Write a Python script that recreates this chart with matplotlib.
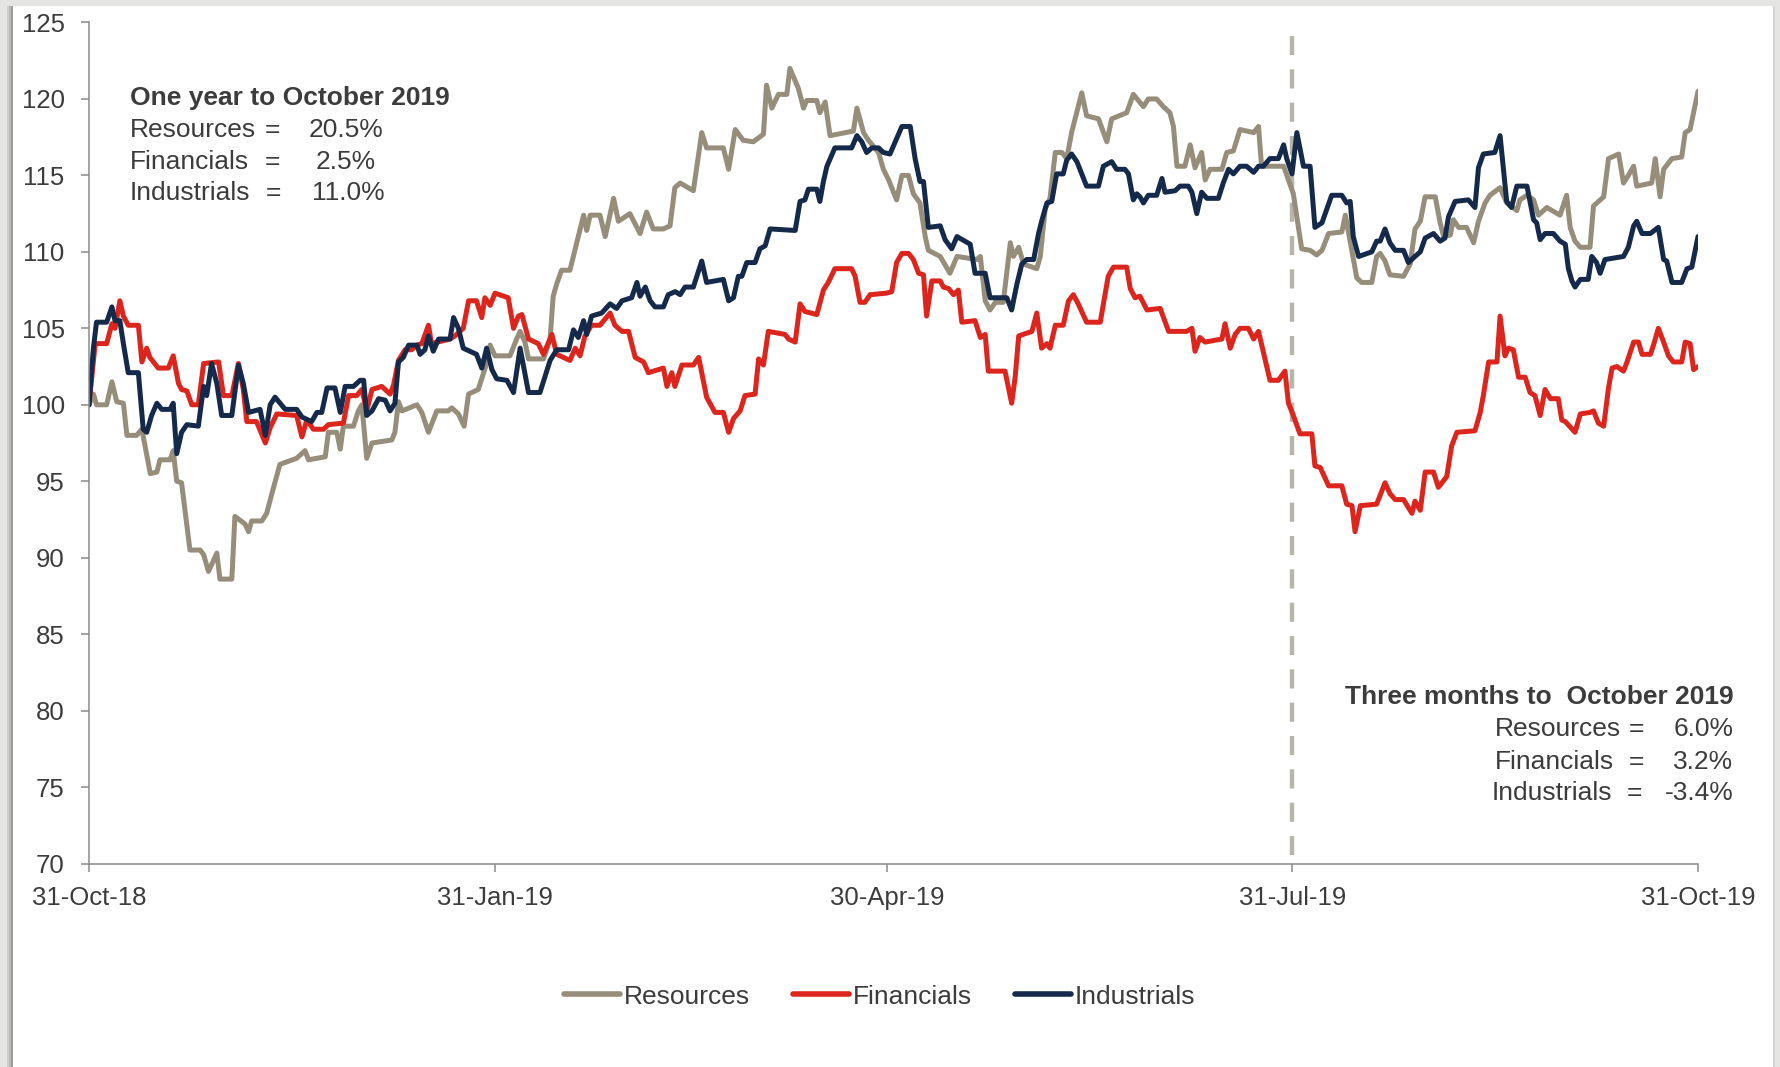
import numpy as np
import pandas as pd
import matplotlib
matplotlib.use("Agg")
import matplotlib.pyplot as plt
from matplotlib.patches import Rectangle

plt.rcParams['font.family'] = ['Liberation Sans', 'DejaVu Sans']

# ---------------- data (days after 31-Oct-2018, index level) ----------------
start_date = "2018-10-31"
tick_dates = ["2018-10-31", "2019-01-31", "2019-04-30", "2019-07-31", "2019-10-31"]
y_ticks = [70, 75, 80, 85, 90, 95, 100, 105, 110, 115, 120, 125]

res_days = [0, 1.0, 1.7, 4.0, 5.2, 6.3, 7.8, 8.6, 10.8, 12.0,
            13.9, 15.4, 16.1, 18.4, 19.1, 19.9, 21.0, 22.9, 25.2, 26.0,
            27.1, 29.0, 29.7, 32.4, 33.1, 35.4, 36.2, 36.9, 39.2, 40.3,
            41.5, 43.3, 47.1, 49.0, 49.8, 53.6, 54.3, 56.2, 57.0, 57.7,
            60.0, 61.1, 61.9, 63.0, 64.2, 68.7, 69.4, 70.2, 71.0, 74.4,
            75.5, 77.0, 78.9, 81.5, 82.3, 83.8, 85.1, 86.1, 88.3, 90.2,
            91.0, 92.1, 95.5, 97.0, 97.8, 98.9, 99.7, 103.1, 104.6, 105.3,
            106.1, 107.2, 109.1, 111.0, 112.2, 112.9, 113.7, 115.9, 117.1, 119.0,
            120.1, 122.7, 125.0, 126.5, 128.0, 130.3, 131.8, 132.9, 134.1, 137.1,
            139.0, 140.1, 143.9, 145.1, 146.6, 148.4, 150.7, 153.0, 153.7, 154.9,
            156.4, 158.3, 159.0, 160.9, 162.1, 162.8, 165.1, 165.8, 167.0, 168.1,
            173.4, 174.2, 175.7, 176.8, 179.1, 180.2, 181.4, 183.2, 184.4, 185.9,
            187.0, 188.5, 189.7, 190.4, 193.1, 195.3, 196.9, 201.4, 202.2, 203.3,
            204.4, 205.6, 207.4, 209.0, 209.7, 210.9, 212.0, 215.0, 215.8, 216.9,
            218.0, 219.2, 220.7, 221.8, 222.9, 225.2, 226.3, 229.0, 230.9, 232.0,
            235.4, 236.9, 239.2, 240.3, 242.2, 243.7, 245.2, 246.0, 246.8, 248.6,
            249.8, 250.9, 252.4, 253.2, 254.3, 257.0, 258.1, 259.6, 261.1, 264.2,
            265.3, 266.0, 271.0, 273.2, 275.1, 277.0, 278.5, 279.7, 281.2, 284.2,
            285.0, 287.6, 288.7, 291.0, 292.1, 292.9, 294.0, 295.1, 298.2, 299.7,
            300.8, 302.0, 303.1, 305.4, 306.5, 307.3, 308.8, 309.5, 310.7, 312.5,
            314.1, 315.2, 316.7, 317.8, 320.1, 321.6, 323.9, 324.6, 326.2, 327.7,
            328.8, 330.7, 333.7, 335.2, 336.0, 337.1, 338.3, 340.5, 341.3, 343.6,
            344.7, 347.0, 348.1, 349.2, 350.4, 351.1, 354.5, 355.3, 356.4, 357.2,
            359.1, 361.3, 362.1, 363.2, 365.0]
res_vals = [100.0, 100.7, 100.0, 100.0, 101.5, 100.2, 100.1, 98.0, 98.0, 98.4,
            95.5, 95.6, 96.4, 96.4, 97.0, 95.0, 94.9, 90.5, 90.5, 90.2,
            89.1, 90.3, 88.6, 88.6, 92.7, 92.2, 91.7, 92.4, 92.4, 92.9,
            94.2, 96.1, 96.5, 97.0, 96.4, 96.6, 98.2, 98.2, 97.1, 98.6,
            98.6, 99.6, 100.0, 96.5, 97.5, 97.7, 98.2, 100.2, 99.6, 100.0,
            99.5, 98.2, 99.6, 99.6, 99.8, 99.4, 98.6, 100.7, 101.0, 102.7,
            103.9, 103.2, 103.2, 104.3, 104.8, 104.1, 103.0, 103.0, 104.3, 107.1,
            107.9, 108.8, 108.8, 111.0, 112.4, 111.4, 112.4, 112.4, 111.0, 113.5,
            112.0, 112.5, 111.2, 112.6, 111.5, 111.5, 111.7, 114.2, 114.5, 114.0,
            117.8, 116.8, 116.8, 115.4, 118.0, 117.3, 117.2, 117.7, 120.9, 119.4,
            120.3, 120.3, 122.0, 120.7, 119.4, 119.9, 119.9, 119.1, 119.8, 117.6,
            117.9, 119.4, 117.8, 117.3, 116.5, 115.4, 114.7, 113.4, 115.0, 115.0,
            113.8, 113.2, 111.0, 110.1, 109.7, 108.6, 109.7, 109.5, 109.7, 106.8,
            106.2, 106.7, 106.7, 110.6, 109.7, 110.3, 109.2, 108.9, 109.7, 112.8,
            113.5, 116.5, 116.5, 116.1, 117.8, 120.4, 118.9, 118.7, 117.2, 118.7,
            119.1, 120.3, 119.5, 120.0, 120.0, 119.5, 119.1, 118.2, 115.6, 115.6,
            117.0, 115.5, 116.5, 114.7, 115.4, 115.4, 116.5, 116.6, 118.0, 117.8,
            118.2, 115.6, 115.6, 113.8, 110.2, 110.1, 109.8, 110.1, 111.2, 111.3,
            112.4, 108.3, 108.0, 108.0, 109.7, 109.9, 109.4, 108.5, 108.4, 109.2,
            111.5, 112.0, 113.6, 113.6, 111.9, 111.0, 111.1, 112.1, 111.6, 111.6,
            110.6, 112.0, 113.2, 113.7, 114.2, 113.2, 112.7, 113.4, 113.7, 113.4,
            112.4, 112.9, 112.4, 113.7, 111.6, 110.7, 110.3, 110.3, 113.0, 113.6,
            116.1, 116.4, 114.5, 115.0, 115.6, 114.3, 114.5, 116.1, 113.6, 115.4,
            116.1, 116.2, 117.8, 118.0, 120.5]

fin_days = [0, 1.4, 4.0, 5.2, 5.9, 7.0, 7.8, 8.9, 11.2, 12.0,
            13.1, 13.8, 15.7, 18.0, 19.1, 20.3, 21.0, 22.2, 23.3, 24.8,
            26.0, 29.4, 30.5, 32.4, 33.9, 35.0, 35.8, 38.0, 40.0, 41.1,
            42.6, 47.1, 48.3, 49.4, 50.9, 53.2, 54.3, 57.7, 58.9, 60.7,
            61.9, 63.0, 64.2, 66.4, 68.3, 69.1, 70.2, 71.7, 73.2, 74.4,
            75.5, 77.0, 77.7, 81.9, 83.0, 84.9, 86.1, 87.9, 89.1, 89.8,
            91.0, 92.1, 95.1, 96.3, 97.4, 98.2, 99.7, 101.9, 103.1, 105.0,
            106.1, 109.1, 110.3, 111.4, 112.5, 114.0, 115.9, 118.2, 119.3, 120.9,
            122.4, 123.9, 125.8, 126.9, 130.3, 131.1, 132.2, 132.9, 134.5, 137.1,
            138.3, 140.1, 142.0, 143.9, 145.1, 146.2, 147.7, 148.8, 151.1, 151.9,
            153.0, 154.1, 157.9, 158.7, 160.2, 161.3, 162.4, 165.1, 166.6, 167.7,
            169.2, 173.0, 173.8, 174.9, 176.0, 177.2, 180.9, 182.1, 183.2, 184.4,
            185.9, 187.0, 188.2, 189.3, 190.0, 191.2, 193.1, 193.8, 195.0, 196.1,
            197.2, 198.0, 201.0, 202.2, 203.3, 204.0, 207.8, 209.3, 210.1, 210.9,
            213.9, 215.0, 216.1, 217.3, 218.0, 219.2, 221.0, 222.2, 223.3, 224.4,
            226.3, 229.4, 231.2, 232.4, 235.4, 236.2, 237.3, 238.4, 240.0, 243.0,
            244.9, 249.0, 250.2, 250.9, 252.0, 253.2, 257.0, 257.7, 258.9, 260.0,
            261.1, 263.0, 264.2, 265.3, 267.9, 269.8, 271.3, 272.1, 273.2, 274.7,
            277.4, 278.1, 279.3, 281.2, 284.2, 285.3, 286.5, 287.2, 288.4, 292.1,
            294.0, 295.1, 296.3, 298.2, 300.1, 300.8, 302.0, 303.1, 305.0, 306.1,
            308.0, 309.1, 310.3, 314.4, 315.6, 316.3, 317.5, 319.4, 320.1, 321.2,
            322.0, 323.1, 324.3, 325.8, 326.9, 328.0, 329.2, 330.3, 331.5, 333.3,
            334.1, 334.9, 337.1, 338.3, 340.5, 341.3, 342.4, 343.6, 344.7, 345.5,
            346.6, 348.1, 348.9, 350.4, 351.5, 352.3, 354.2, 354.9, 356.0, 357.2,
            358.3, 359.4, 361.3, 362.1, 363.2, 364.0, 365.0]
fin_vals = [100.0, 104.0, 104.0, 105.3, 105.0, 106.8, 105.8, 105.2, 105.2, 102.8,
            103.7, 103.1, 102.4, 102.4, 103.2, 101.4, 101.0, 100.9, 100.0, 100.0,
            102.7, 102.8, 100.6, 100.6, 102.7, 101.0, 98.9, 98.9, 97.5, 98.5,
            99.4, 99.3, 97.9, 99.0, 98.4, 98.4, 98.7, 98.8, 100.6, 100.6,
            101.0, 99.6, 101.0, 101.2, 100.7, 101.3, 102.9, 103.6, 103.6, 103.9,
            104.0, 105.2, 104.0, 104.3, 104.5, 105.0, 106.8, 106.8, 105.7, 107.0,
            106.5, 107.3, 107.0, 105.0, 105.8, 105.9, 104.3, 104.0, 103.3, 104.6,
            103.3, 102.9, 103.7, 103.2, 104.5, 105.2, 105.2, 106.0, 105.2, 104.8,
            104.8, 103.1, 102.8, 102.1, 102.4, 101.2, 102.1, 101.2, 102.6, 102.6,
            103.1, 100.5, 99.5, 99.5, 98.2, 99.1, 99.6, 100.6, 100.7, 103.0,
            102.6, 104.8, 104.6, 104.3, 104.1, 106.6, 106.1, 105.9, 107.5, 108.0,
            108.9, 108.9, 108.4, 106.7, 106.7, 107.2, 107.3, 107.4, 109.3, 109.9,
            109.9, 109.5, 108.6, 108.5, 105.8, 108.1, 108.1, 107.7, 107.6, 107.2,
            107.5, 105.4, 105.5, 104.4, 104.6, 102.2, 102.2, 100.1, 101.8, 104.5,
            104.8, 106.0, 103.7, 104.0, 103.7, 105.2, 105.2, 106.8, 107.2, 106.6,
            105.4, 105.4, 108.4, 109.0, 109.0, 107.6, 107.0, 107.1, 106.2, 106.3,
            104.8, 104.8, 105.0, 103.5, 104.4, 104.1, 104.3, 105.3, 103.7, 104.6,
            105.0, 105.0, 104.3, 104.8, 101.6, 101.6, 102.2, 100.1, 99.3, 98.1,
            98.1, 96.0, 95.9, 94.7, 94.7, 93.5, 93.4, 91.7, 93.4, 93.5,
            94.9, 94.2, 93.8, 93.8, 92.9, 93.7, 93.1, 95.6, 95.6, 94.6,
            95.3, 97.3, 98.2, 98.3, 99.5, 100.6, 102.8, 102.8, 105.8, 103.2,
            103.7, 103.6, 101.8, 101.8, 100.8, 100.6, 99.3, 101.0, 100.4, 100.4,
            99.0, 98.9, 98.2, 99.4, 99.5, 99.6, 98.8, 98.6, 101.1, 102.4,
            102.5, 102.2, 102.8, 104.1, 104.1, 103.3, 103.3, 103.9, 105.0, 104.1,
            103.2, 102.8, 102.8, 104.1, 104.0, 102.3, 102.5]

ind_days = [0, 1.0, 1.7, 4.0, 5.2, 5.9, 7.0, 7.8, 8.9, 11.2,
            12.3, 13.1, 14.2, 15.4, 16.5, 18.4, 19.1, 19.9, 21.0, 22.2,
            24.8, 26.0, 26.7, 27.8, 29.0, 30.1, 32.4, 33.9, 35.0, 36.2,
            38.8, 40.0, 41.1, 42.2, 44.5, 47.1, 48.3, 50.5, 51.7, 52.8,
            54.0, 55.8, 57.0, 58.1, 60.0, 61.5, 62.3, 63.0, 64.2, 65.7,
            67.2, 68.3, 69.4, 70.2, 71.3, 72.5, 74.4, 75.1, 76.2, 77.0,
            78.1, 79.3, 81.9, 82.7, 83.8, 84.9, 87.9, 89.1, 90.2, 91.4,
            92.5, 94.8, 96.3, 97.8, 99.7, 102.3, 103.5, 104.6, 106.1, 108.8,
            109.9, 111.0, 112.2, 112.9, 114.0, 116.3, 118.2, 119.7, 120.9, 123.1,
            124.3, 125.0, 126.2, 127.3, 128.4, 130.3, 131.4, 133.0, 134.1, 135.2,
            137.1, 139.0, 140.1, 143.9, 145.1, 146.2, 147.3, 148.1, 149.2, 151.1,
            152.2, 153.4, 154.5, 160.2, 161.3, 162.4, 163.2, 165.1, 165.8, 166.6,
            167.4, 169.2, 173.0, 174.2, 175.3, 176.4, 177.6, 179.1, 180.2, 181.7,
            183.2, 184.4, 186.3, 187.4, 188.5, 189.3, 190.4, 193.1, 194.2, 195.7,
            196.9, 199.9, 201.0, 203.3, 204.4, 208.2, 209.3, 210.5, 211.6, 212.7,
            214.3, 215.4, 216.1, 217.3, 218.4, 219.5, 221.0, 221.8, 222.9, 224.1,
            225.6, 226.3, 229.0, 230.1, 232.0, 233.1, 235.0, 235.8, 236.9, 237.7,
            238.4, 239.2, 240.3, 242.2, 243.4, 244.1, 246.4, 247.5, 249.4, 250.2,
            251.3, 252.4, 253.6, 256.2, 257.3, 258.5, 259.6, 261.1, 262.6, 264.2,
            265.3, 266.4, 267.9, 269.8, 271.0, 271.7, 272.9, 274.0, 275.5, 277.0,
            278.1, 279.7, 280.8, 281.9, 284.2, 285.3, 286.1, 286.8, 288.0, 291.0,
            292.1, 292.9, 294.0, 295.1, 296.3, 298.2, 299.3, 300.8, 302.0, 303.1,
            305.0, 306.5, 307.6, 308.4, 309.9, 312.9, 314.4, 315.2, 316.3, 318.9,
            320.1, 321.6, 322.7, 323.9, 326.2, 327.7, 328.4, 329.2, 330.3, 332.2,
            333.7, 334.9, 335.6, 336.4, 337.1, 338.3, 340.1, 340.9, 342.0, 342.8,
            343.9, 348.1, 349.2, 350.4, 351.1, 352.3, 354.2, 356.0, 357.2, 357.9,
            359.1, 361.3, 362.5, 363.6, 364.3, 365.0]
ind_vals = [100.0, 103.7, 105.4, 105.4, 106.4, 105.5, 105.5, 104.0, 102.1, 102.1,
            98.4, 98.2, 99.3, 100.1, 99.7, 99.7, 100.1, 96.8, 98.2, 98.7,
            98.6, 101.2, 100.6, 102.7, 101.4, 99.3, 99.3, 102.6, 101.4, 99.5,
            99.7, 98.0, 100.0, 100.5, 99.7, 99.7, 99.2, 98.9, 99.5, 99.5,
            101.1, 101.1, 99.5, 101.2, 101.2, 101.6, 101.6, 99.3, 99.6, 100.4,
            100.3, 99.6, 100.1, 102.8, 103.1, 103.9, 103.9, 103.3, 103.6, 104.5,
            103.5, 104.3, 104.3, 105.7, 105.0, 103.7, 103.3, 102.4, 103.7, 102.3,
            101.7, 101.6, 100.8, 103.7, 100.8, 100.8, 101.9, 102.9, 103.6, 103.6,
            104.9, 104.4, 105.5, 104.6, 105.8, 106.0, 106.6, 106.3, 106.8, 107.0,
            108.0, 107.1, 107.7, 106.8, 106.4, 106.4, 107.2, 107.4, 107.2, 107.7,
            107.7, 109.4, 108.0, 108.2, 106.8, 107.0, 108.4, 108.4, 109.3, 109.3,
            110.2, 110.4, 111.5, 111.4, 113.3, 113.4, 114.1, 114.1, 113.3, 114.6,
            115.6, 116.8, 116.8, 117.6, 117.2, 116.5, 116.8, 116.8, 116.5, 116.4,
            117.4, 118.2, 118.2, 116.1, 114.6, 114.6, 111.6, 111.7, 110.8, 110.2,
            111.0, 110.5, 108.6, 108.6, 107.0, 107.0, 106.2, 107.9, 109.2, 109.5,
            109.5, 111.2, 112.0, 113.2, 113.3, 115.1, 115.1, 116.0, 116.4, 115.9,
            114.8, 114.3, 114.3, 115.6, 115.9, 115.4, 115.4, 115.1, 113.4, 113.8,
            113.6, 113.2, 113.7, 113.7, 114.8, 113.9, 114.0, 114.3, 114.3, 113.9,
            112.5, 113.9, 113.5, 113.5, 114.5, 115.4, 115.1, 115.6, 115.6, 115.2,
            115.6, 115.6, 116.1, 116.1, 117.0, 116.1, 115.1, 117.8, 115.6, 115.6,
            111.6, 111.9, 112.8, 113.7, 113.7, 113.2, 113.3, 111.0, 109.7, 110.0,
            110.7, 110.7, 111.5, 110.6, 110.1, 110.1, 109.3, 109.7, 110.0, 110.9,
            111.2, 110.7, 110.9, 112.3, 113.3, 113.4, 112.9, 115.5, 116.4, 116.5,
            117.6, 113.3, 112.9, 114.3, 114.3, 112.1, 111.9, 110.8, 111.2, 111.2,
            110.7, 110.5, 108.9, 108.1, 107.7, 108.2, 108.2, 109.7, 109.3, 108.6,
            109.5, 109.7, 110.3, 111.7, 112.0, 111.2, 111.2, 111.6, 109.5, 109.4,
            108.0, 108.0, 108.9, 109.0, 110.0, 111.0]

series_names = ["Resources", "Financials", "Industrials"]
series_colors = ["#968D7A", "#DC251C", "#152A4A"]

one_year_values = ["20.5%", "2.5%", "11.0%"]
three_month_values = ["6.0%", "3.2%", "-3.4%"]

# ---------------- figure ----------------
W, H = 1781, 1067
fig = plt.figure(figsize=(W / 100, H / 100), dpi=100, facecolor="#E5E5E3")

# white panel with grey frame / left shadow
fig.patches.append(Rectangle((13.5 / W, 0), (1773.5 - 13.5) / W, 1 - 5.7 / H,
                             transform=fig.transFigure, facecolor="white",
                             edgecolor="none", zorder=-10))
for x0, x1, c in [(7.0, 9.5, "#CFCFCD"), (9.5, 11.5, "#B7B7B5"), (11.5, 13.5, "#9E9E9C")]:
    fig.patches.append(Rectangle((x0 / W, 0), (x1 - x0) / W, 1 - 5.7 / H,
                                 transform=fig.transFigure, facecolor=c,
                                 edgecolor="none", zorder=-9))
fig.patches.append(Rectangle((1773.5 / W, 0), 2.0 / W, 1 - 5.7 / H,
                             transform=fig.transFigure, facecolor="#D6D6D4",
                             edgecolor="none", zorder=-9))

left, right = 89 / W, 1698 / W
bottom, top = 1 - 863.5 / H, 1 - 22.5 / H
ax = fig.add_axes([left, bottom, right - left, top - bottom])
ax.set_facecolor("white")

t0 = pd.Timestamp(start_date)
def to_dates(days):
    return t0 + pd.to_timedelta(np.asarray(days, dtype=float), unit="D")

all_days = [res_days, fin_days, ind_days]
all_vals = [res_vals, fin_vals, ind_vals]

LW = 3.6

# vertical dashed marker at 31-Jul-19
ax.axvline(pd.Timestamp("2019-07-31"), ymin=(124.1 - 70) / 55, ymax=0,
           color="#B7B5AA", lw=3.2, dashes=(4.3, 3.2), zorder=1.5)

for d, v, name, col in zip(all_days, all_vals, series_names, series_colors):
    ax.plot(to_dates(d), v, color=col, lw=LW, label=name,
            solid_capstyle="round", solid_joinstyle="round", zorder=2)

ax.set_xlim(t0, pd.Timestamp(tick_dates[-1]))
ax.set_ylim(70, 125)
ax.set_yticks(y_ticks)
ax.set_xticks([pd.Timestamp(t) for t in tick_dates])
ax.set_xticklabels([pd.Timestamp(t).strftime("%d-%b-%y") for t in tick_dates])

for s in ["top", "right"]:
    ax.spines[s].set_visible(False)
for s in ["left", "bottom"]:
    ax.spines[s].set_color("#8A8A8A")
    ax.spines[s].set_linewidth(1.1)

txt_col = "#3C3C3C"
ax.tick_params(axis="y", direction="out", length=5.5, width=1.1, color="#8A8A8A",
               labelsize=18.5, labelcolor=txt_col, pad=12)
ax.tick_params(axis="x", direction="out", length=5.5, width=1.1, color="#8A8A8A",
               labelsize=18.5, labelcolor=txt_col, pad=10.5)

# ---------------- annotations ----------------
fs = 19
tr = ax.transAxes
ax.text(0.0255, 0.910, "One year to October 2019", transform=tr, fontsize=fs,
        fontweight="bold", color=txt_col, ha="left", va="center")
ys_left = [0.8722, 0.834, 0.7967]
eq_left = [0.1137, 0.1137, 0.1149]
val_left = [0.1827, 0.1784, 0.184]
for lab, val, y, xe, xv in zip(series_names, one_year_values, ys_left, eq_left, val_left):
    ax.text(0.0255, y, lab, transform=tr, fontsize=fs, color=txt_col, ha="left", va="center")
    ax.text(xe, y, "=", transform=tr, fontsize=fs, color=txt_col, ha="center", va="center")
    ax.text(xv, y, val, transform=tr, fontsize=fs, color=txt_col, ha="right", va="center")

ax.text(1.0221, 0.1983, "Three months to  October 2019", transform=tr, fontsize=fs,
        fontweight="bold", color=txt_col, ha="right", va="center")
ys_right = [0.1596, 0.1210, 0.0835]
lab_right = [0.874, 0.874, 0.8717]
eq_right = [0.9618, 0.9618, 0.9604]
for lab, val, y, xl, xe in zip(series_names, three_month_values, ys_right, lab_right, eq_right):
    ax.text(xl, y, lab, transform=tr, fontsize=fs, color=txt_col, ha="left", va="center")
    ax.text(xe, y, "=", transform=tr, fontsize=fs, color=txt_col, ha="center", va="center")
    ax.text(1.0221, y, val, transform=tr, fontsize=fs, color=txt_col, ha="right", va="center")

# ---------------- legend ----------------
leg = fig.legend(loc="center", bbox_to_anchor=(0.494, 0.0659), ncol=3, frameon=False,
                 fontsize=fs, handlelength=2.1, handletextpad=0.15, columnspacing=1.65)
for t in leg.get_texts():
    t.set_color(txt_col)
for h in leg.get_lines():
    h.set_linewidth(LW + 0.4)
    h.set_solid_capstyle("round")

fig.savefig("out.png", dpi=100, facecolor=fig.get_facecolor())
